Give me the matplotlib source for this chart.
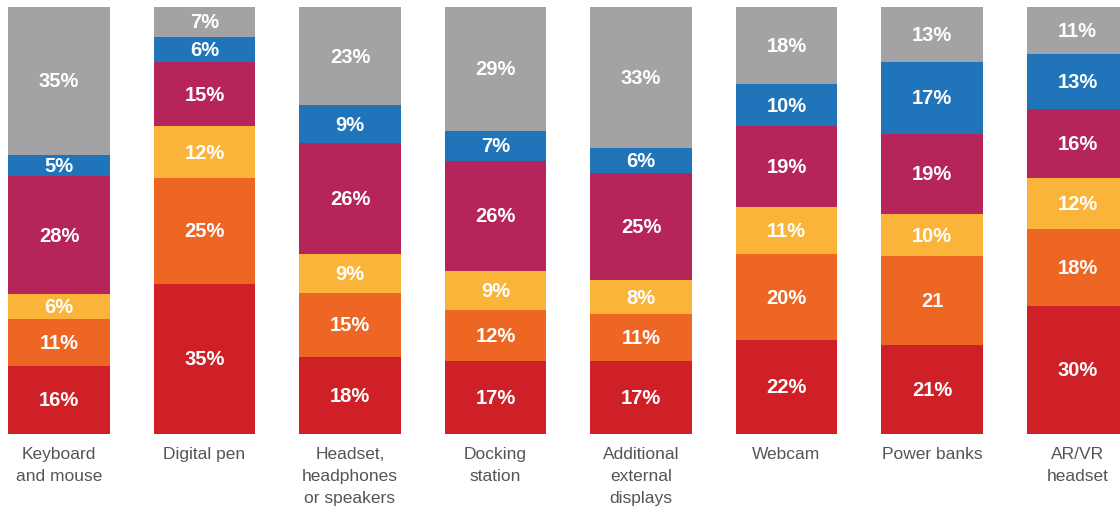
import matplotlib
matplotlib.use("Agg")
import matplotlib.pyplot as plt
import numpy as np

plt.rcParams['font.family'] = ['Liberation Sans', 'DejaVu Sans']

categories = ["Keyboard\nand mouse", "Digital pen", "Headset,\nheadphones\nor speakers",
              "Docking\nstation", "Additional\nexternal\ndisplays", "Webcam",
              "Power banks", "AR/VR\nheadset"]

# segments from bottom to top
red = [16, 35, 18, 17, 17, 22, 21, 30]
orange = [11, 25, 15, 12, 11, 20, 21, 18]
yellow = [6, 12, 9, 9, 8, 11, 10, 12]
crimson = [28, 15, 26, 26, 25, 19, 19, 16]
blue = [5, 6, 9, 7, 6, 10, 17, 13]
gray = [35, 7, 23, 29, 33, 18, 13, 11]

# the "21" in power banks orange segment is printed without a percent sign
label_fmt = {(6, 1): "{}"}

series = [red, orange, yellow, crimson, blue, gray]
colors = ["#D02027", "#EE6623", "#FBB43A", "#B6255A", "#1F74BA", "#A3A3A6"]

fig = plt.figure(figsize=(11.2, 5.1), dpi=100)
ax = fig.add_axes([0, 75.5 / 510, 1, 426.5 / 510])

data = np.array(series, dtype=float)
totals = data.sum(axis=0)
x = np.arange(len(categories))
bottom = np.zeros(len(categories))
for si, (vals, col) in enumerate(zip(series, colors)):
    h = np.array(vals) / totals
    ax.bar(x, h, bottom=bottom, width=0.70, color=col, linewidth=0)
    for i in range(len(categories)):
        fmt = label_fmt.get((i, si), "{}%")
        ax.text(x[i], bottom[i] + h[i] / 2, fmt.format(vals[i]), ha="center", va="center",
                color="white", fontsize=14.5, fontweight="bold")
    bottom += h

ax.set_xlim(-59 / 145.5, (1120 - 59) / 145.5)
ax.set_ylim(0, 1)
ax.axis("off")

for i, cat in enumerate(categories):
    ax.text(x[i], -0.03, cat, ha="center", va="top", fontsize=12.5, color="#555555",
            linespacing=1.58, transform=ax.transData)

fig.savefig("out.png", dpi=100)
